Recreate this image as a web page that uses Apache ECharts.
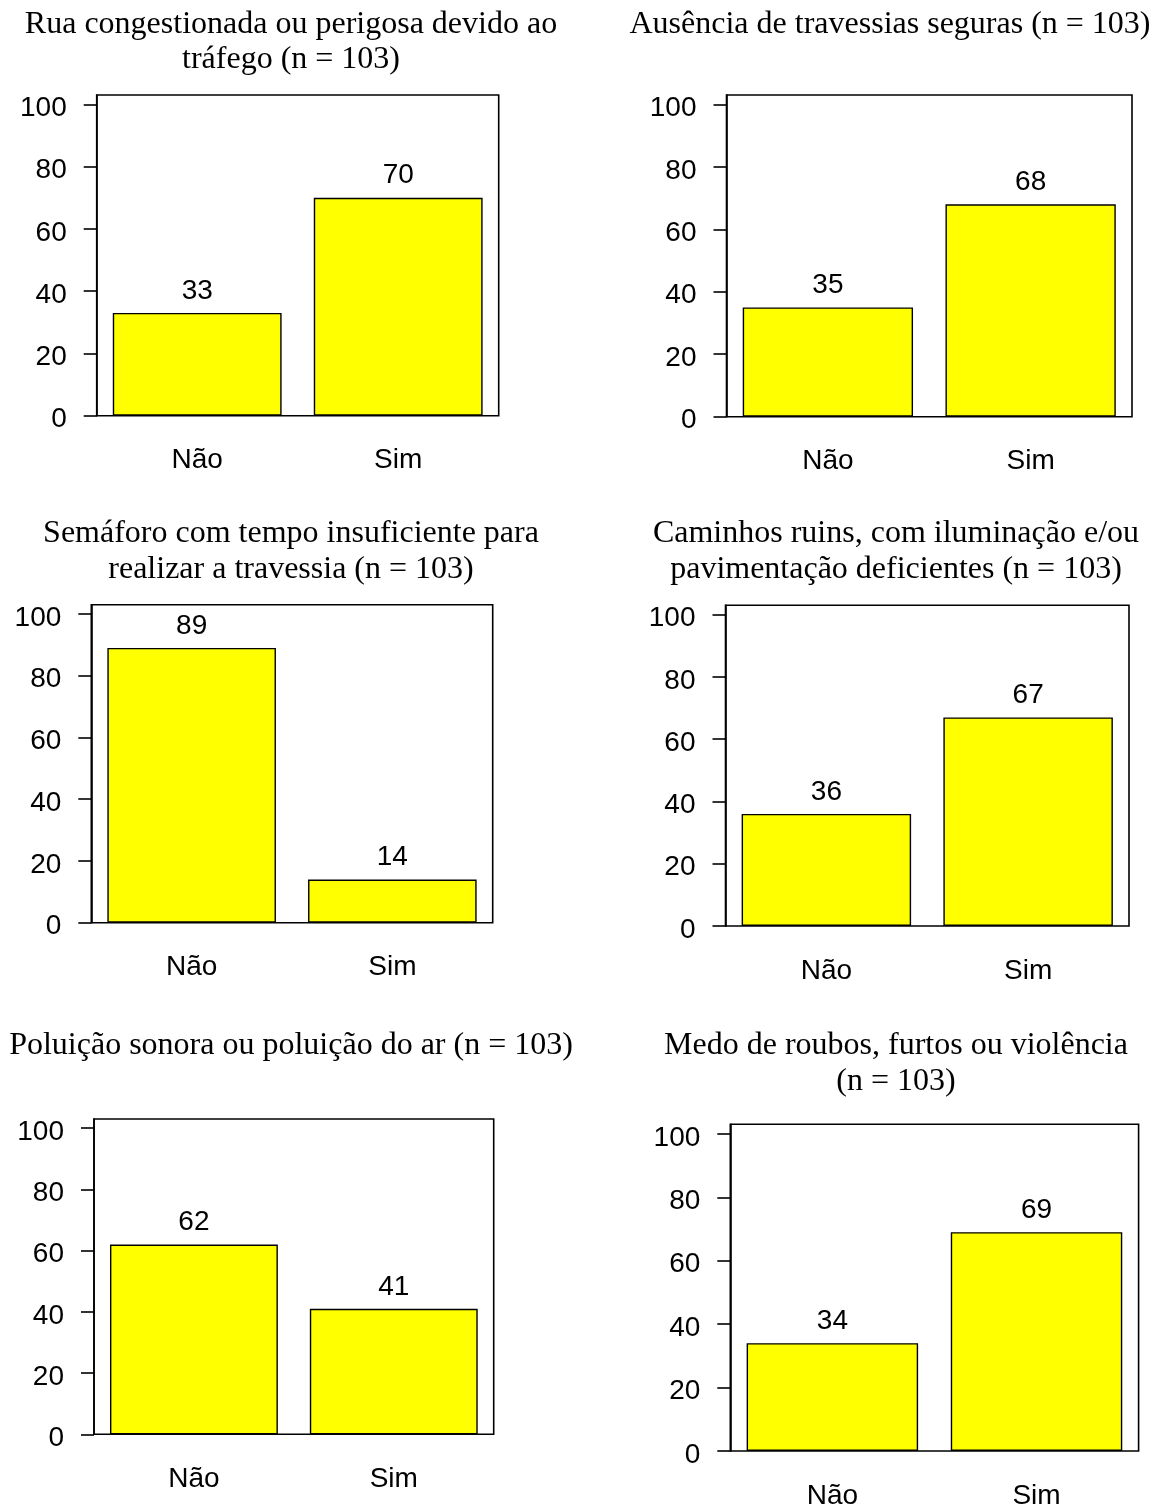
<!DOCTYPE html>
<html>
<head>
<meta charset="utf-8">
<script src="https://cdn.jsdelivr.net/npm/echarts@6/dist/echarts.min.js"></script>
<style>
  html, body { margin: 0; padding: 0; background: #fff; }
  #chart { width: 1162px; height: 1511px; }
</style>
</head>
<body>
<div id="chart"></div>
<script>
// categorias e valores (contagens, n = 103 em cada painel)
var categorias = ["Não", "Sim"];
var ruaCongestionada = [33, 70];
var ausenciaTravessias = [35, 68];
var semaforoTempo = [89, 14];
var caminhosRuins = [36, 67];
var poluicao = [62, 41];
var medoRoubos = [34, 69];
var yTicks = [0, 20, 40, 60, 80, 100];
var yMax = 103;

var titulos = [
  ["Rua congestionada ou perigosa devido ao", "tráfego (n = 103)"],
  ["Ausência de travessias seguras (n = 103)"],
  ["Semáforo com tempo insuficiente para", "realizar a travessia (n = 103)"],
  ["Caminhos ruins, com iluminação e/ou", "pavimentação deficientes (n = 103)"],
  ["Poluição sonora ou poluição do ar (n = 103)"],
  ["Medo de roubos, furtos ou violência", "(n = 103)"]
];
var valores = [ruaCongestionada, ausenciaTravessias, semaforoTempo, caminhosRuins, poluicao, medoRoubos];

// posicao de cada painel (caixa do grafico) em px
var paineis = [
  { left: 96.7, top: 95, width: 402, height: 320.7, tx: 291, ty: [24.5, 60] },
  { left: 726.5, top: 95, width: 405.5, height: 321.7, tx: 890, ty: [24.5] },
  { left: 91.3, top: 604.7, width: 401.4, height: 318, tx: 291, ty: [533.5, 569.5] },
  { left: 725.5, top: 605.3, width: 403.5, height: 320.7, tx: 896, ty: [533.5, 569.5] },
  { left: 94, top: 1119, width: 399.7, height: 315.3, tx: 291, ty: [1046] },
  { left: 730.3, top: 1124.3, width: 408.3, height: 326.7, tx: 896, ty: [1046, 1082] }
];

var sans = "'Liberation Sans', Arial, sans-serif";
var serif = "'Liberation Serif', 'Times New Roman', serif";

var grids = [], xAxes = [], yAxes = [], series = [], graficos = [];

for (var i = 0; i < paineis.length; i++) {
  var p = paineis[i];
  grids.push({
    left: p.left, top: p.top, width: p.width, height: p.height,
    show: true, borderColor: "#000", borderWidth: 1.6, backgroundColor: "transparent"
  });
  xAxes.push({
    type: "category", gridIndex: i, data: categorias,
    axisLine: { show: false }, axisTick: { show: false },
    axisLabel: { margin: 31, fontSize: 28, color: "#000", fontFamily: sans },
    splitLine: { show: false }
  });
  yAxes.push({
    type: "value", gridIndex: i, min: 0, max: yMax,
    axisLine: { show: true, lineStyle: { color: "#000", width: 1.6 } },
    axisTick: { show: true, length: 13, customValues: yTicks, lineStyle: { color: "#000", width: 1.6 } },
    axisLabel: {
      customValues: yTicks, margin: 30, fontSize: 28, color: "#000", fontFamily: sans,
      verticalAlign: "top", lineHeight: 8
    },
    splitLine: { show: false }
  });
  series.push({
    type: "bar", xAxisIndex: i, yAxisIndex: i,
    data: valores[i], barWidth: "84%",
    itemStyle: { color: "#FFFF00", borderColor: "#000", borderWidth: 1.4 },
    label: { show: true, position: "top", distance: 8, fontSize: 28, color: "#000", fontFamily: sans }
  });
  for (var j = 0; j < titulos[i].length; j++) {
    graficos.push({
      type: "text", x: p.tx, y: p.ty[j],
      style: {
        text: titulos[i][j], font: "32px " + serif, fill: "#000",
        textAlign: "center", textVerticalAlign: "middle",
        align: "center", verticalAlign: "middle"
      }
    });
  }
}

var myChart = echarts.init(document.getElementById("chart"));
myChart.setOption({
  animation: false,
  backgroundColor: "#fff",
  grid: grids,
  xAxis: xAxes,
  yAxis: yAxes,
  series: series,
  graphic: graficos
});
</script>
</body>
</html>
